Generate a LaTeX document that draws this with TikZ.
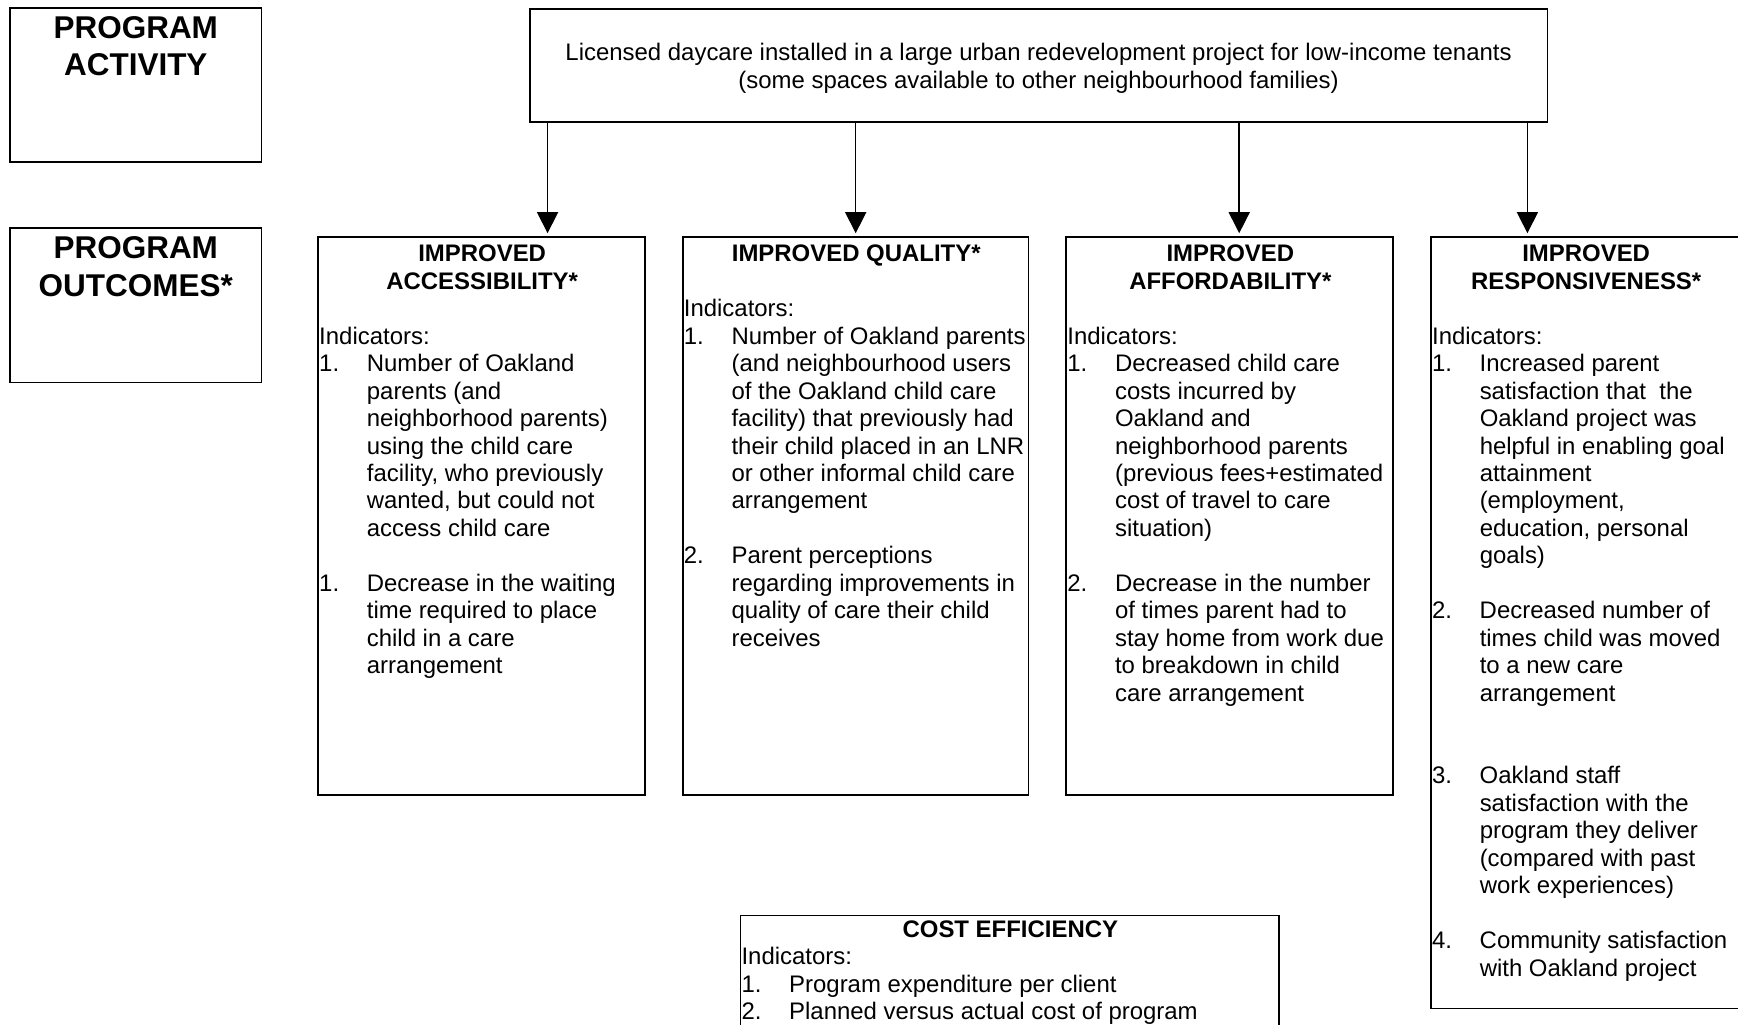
\documentclass[tikz,border=0pt]{standalone}
\usepackage{fontspec}
\setmainfont{Liberation Sans}
\usetikzlibrary{arrows.meta}

% one drawing unit
\newlength\ux \setlength\ux{0.5pt}
% width of the number column in the indicator lists
\newlength\numw \setlength\numw{21.5pt}

\newcommand\bodyfont{\fontsize{10.8pt}{12.4pt}\selectfont}
\newcommand\bigfont{\fontsize{14.2pt}{17pt}\selectfont\bfseries}

% pieces of the outcome boxes
\newcommand\boxhead[1]{\noindent\makebox[\linewidth][c]{\bfseries #1}\par}
\newcommand\indlabel{\noindent Indicators:\par}
\newcommand\numitem[2]{\hangindent=\numw\hangafter=1\noindent\makebox[\numw][l]{#1}#2\par}
\newcommand\skipline{\vspace{\baselineskip}}
\newcommand\boxtext[2]{\parbox[t]{#1\ux}{\hbadness=10000\hfuzz=\maxdimen\parskip=0pt #2}}

\tikzset{
  frame/.style={draw, line width=0.75pt, inner sep=0pt, outer sep=0pt, anchor=north west},
  conn/.style={line width=0.7pt, -{Triangle[width=9.5pt,length=9.5pt]}, shorten >=1.8pt},
  txt/.style={anchor=base west, inner sep=0pt, outer sep=0pt, font=\bodyfont},
  label/.style={anchor=base, inner sep=0pt, outer sep=0pt, font=\bigfont},
}

\begin{document}
\begin{tikzpicture}[x=0.5pt, y=-0.5pt]
\useasboundingbox (0,0) rectangle (1568,924);
\fill[white] (0,0) rectangle (1568,924);
\clip (0,0) rectangle (1568,924);

% row labels
\node[frame, minimum width=227\ux, minimum height=139\ux] (lblact) at (9,7) {};
\node[label] (lblacttxt) at (122.5,34.5) {\parbox[t]{220\ux}{\centering PROGRAM\\ACTIVITY}};
\node[frame, minimum width=227\ux, minimum height=139\ux] (lblout) at (9,206) {};
\node[label] (lblouttxt) at (122.5,233.5) {\parbox[t]{220\ux}{\centering PROGRAM\\OUTCOMES*}};

% program activity
\node[frame, minimum width=918\ux, minimum height=102\ux] (act) at (478,8) {};
\node[anchor=base, inner sep=0pt, font=\bodyfont] (acttxt) at (937,55)
  {\parbox[t]{900\ux}{\centering Licensed daycare installed in a large urban redevelopment project for low-income tenants\\(some spaces available to other neighbourhood families)}};

% outcome boxes
\node[frame, minimum width=295\ux, minimum height=503\ux] (acc) at (287,214) {};
\node[frame, minimum width=312\ux, minimum height=503\ux] (qual) at (616,214) {};
\node[frame, minimum width=295\ux, minimum height=503\ux] (aff) at (962,214) {};
\node[frame, minimum width=279\ux, minimum height=696\ux] (resp) at (1291,214) {};
\node[frame, minimum width=486\ux, minimum height=110\ux] (cost) at (668,826) {};

\node[txt] (acctxt) at (288,236) {\boxtext{294}{%
  \boxhead{IMPROVED}
  \boxhead{ACCESSIBILITY*}
  \skipline
  \indlabel
  \numitem{1.}{Number of Oakland\\parents (and\\neighborhood parents)\\using the child care\\facility, who previously\\wanted, but could not\\access child care}
  \skipline
  \numitem{1.}{Decrease in the waiting\\time required to place\\child in a care\\arrangement}}};

\node[txt] (qualtxt) at (617,236) {\boxtext{311}{%
  \boxhead{IMPROVED QUALITY*}
  \skipline
  \indlabel
  \numitem{1.}{Number of Oakland parents\\(and neighbourhood users\\of the Oakland child care\\facility) that previously had\\their child placed in an LNR\\or other informal child care\\arrangement}
  \skipline
  \numitem{2.}{Parent perceptions\\regarding improvements in\\quality of care their child\\receives}}};

\node[txt] (afftxt) at (963,236) {\boxtext{294}{%
  \boxhead{IMPROVED}
  \boxhead{AFFORDABILITY*}
  \skipline
  \indlabel
  \numitem{1.}{Decreased child care\\costs incurred by\\Oakland and\\neighborhood parents\\(previous fees+estimated\\cost of travel to care\\situation)}
  \skipline
  \numitem{2.}{Decrease in the number\\of times parent had to\\stay home from work due\\to breakdown in child\\care arrangement}}};

\node[txt] (resptxt) at (1292,236) {\boxtext{278}{%
  \boxhead{IMPROVED}
  \boxhead{RESPONSIVENESS*}
  \skipline
  \indlabel
  \numitem{1.}{Increased parent\\satisfaction that\ \ the\\Oakland project was\\helpful in enabling goal\\attainment\\(employment,\\education, personal\\goals)}
  \skipline
  \numitem{2.}{Decreased number of\\times child was moved\\to a new care\\arrangement}
  \skipline\skipline
  \numitem{3.}{Oakland staff\\satisfaction with the\\program they deliver\\(compared with past\\work experiences)}
  \skipline
  \numitem{4.}{Community satisfaction\\with Oakland project}}};

\node[txt] (costtxt) at (669,845.5) {\boxtext{485}{%
  \boxhead{COST EFFICIENCY}
  \indlabel
  \numitem{1.}{Program expenditure per client}
  \numitem{2.}{Planned versus actual cost of program}}};

% connectors from the activity to each outcome
\coordinate (x1) at (494,0);
\coordinate (x2) at (772,0);
\coordinate (x3) at (1118,0);
\coordinate (x4) at (1378,0);
\draw[conn] (act.south -| x1) -- (acc.north -| x1);
\draw[conn] (act.south -| x2) -- (qual.north -| x2);
\draw[conn] (act.south -| x3) -- (aff.north -| x3);
\draw[conn] (act.south -| x4) -- (resp.north -| x4);
\end{tikzpicture}
\end{document}
